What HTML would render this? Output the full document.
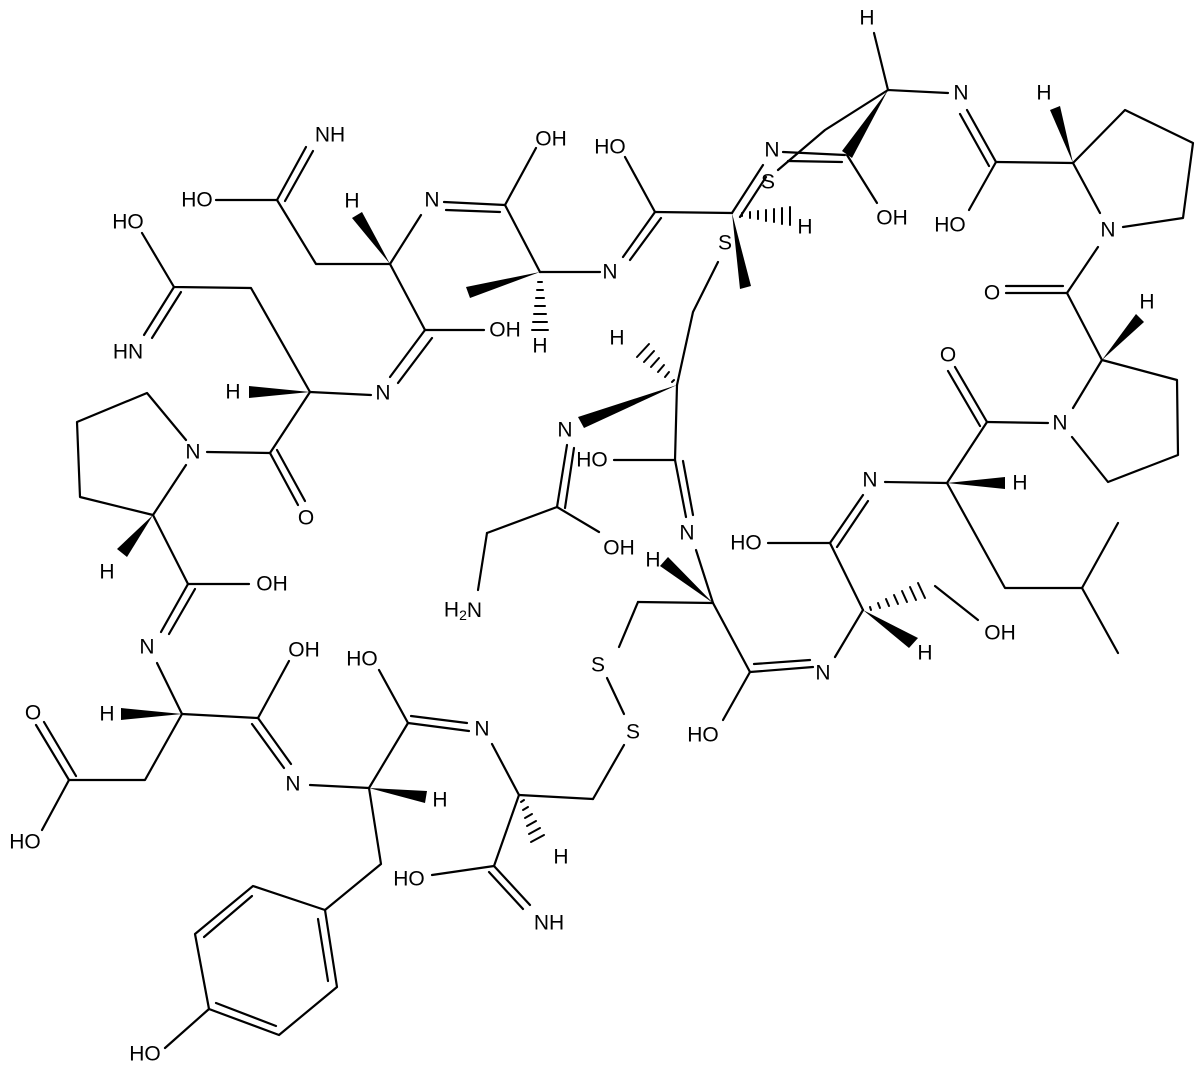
<!DOCTYPE html>
<html><head><meta charset="utf-8"><style>
html,body{margin:0;padding:0;background:#fff;}
svg{display:block}
text{font-family:"Liberation Sans",sans-serif;font-size:21px;text-anchor:middle;dominant-baseline:central;fill:#000}
line,polyline{stroke:#000;stroke-width:2.2;fill:none;stroke-linecap:round;stroke-linejoin:round}
.h line{stroke-width:2}
</style></head><body>
<svg width="1200" height="1068" viewBox="0 0 1200 1068" xmlns="http://www.w3.org/2000/svg">
<line x1="306" y1="147" x2="277" y2="200"/><line x1="313" y1="151" x2="285" y2="201"/>
<line x1="216" y1="200" x2="277" y2="200"/>
<polyline points="277,200 316,264 390,264 421,215"/>
<polygon points="390,264 352,218 362,212"/>
<line x1="444" y1="202" x2="505" y2="205"/><line x1="446" y1="210" x2="500" y2="212"/>
<line x1="505" y1="205" x2="536" y2="148"/>
<line x1="505" y1="205" x2="540" y2="272"/>
<polygon points="540,272 466,287 470,298"/>
<g class="h"><line x1="538" y1="282" x2="542" y2="282"/><line x1="537" y1="290" x2="543" y2="290"/><line x1="536" y1="298" x2="544" y2="298"/><line x1="535" y1="306" x2="545" y2="306"/><line x1="534" y1="314" x2="546" y2="314"/><line x1="533" y1="322" x2="547" y2="322"/><line x1="532" y1="330" x2="548" y2="330"/></g>
<line x1="540" y1="272" x2="600" y2="272"/>
<line x1="390" y1="264" x2="425" y2="330"/>
<line x1="425" y1="330" x2="484" y2="330"/>
<line x1="425" y1="330" x2="390" y2="377"/><line x1="432" y1="338" x2="398" y2="383"/>
<line x1="371" y1="395" x2="310" y2="392"/>
<polygon points="310,392 249,386 249,398"/>
<polyline points="310,392 251,288 174,287 142,233"/>
<line x1="174" y1="287" x2="144" y2="335"/><line x1="181" y1="292" x2="152" y2="338"/>
<line x1="310" y1="392" x2="270" y2="453"/>
<line x1="270" y1="453" x2="207" y2="452"/>
<line x1="270" y1="453" x2="298" y2="505"/><line x1="277" y1="450" x2="305" y2="501"/>
<polyline points="186,440 147,393 77,422 80,497 153,515 186,465"/>
<polygon points="153,515 117,549 127,557"/>
<line x1="153" y1="515" x2="188" y2="584"/>
<line x1="188" y1="584" x2="249" y2="584"/>
<line x1="188" y1="584" x2="161" y2="632"/><line x1="195" y1="589" x2="169" y2="634"/>
<line x1="157" y1="663" x2="182" y2="714"/>
<polygon points="182,714 121,708 121,720"/>
<polyline points="182,714 145,780 69,780 42,830"/>
<line x1="69" y1="780" x2="36" y2="725"/><line x1="76" y1="776" x2="44" y2="722"/>
<line x1="182" y1="714" x2="258" y2="718"/>
<line x1="258" y1="718" x2="289" y2="661"/>
<line x1="258" y1="718" x2="291" y2="764"/><line x1="252" y1="724" x2="284" y2="768"/>
<line x1="310" y1="785" x2="369" y2="788"/>
<polygon points="369,788 427,791 425,803"/>
<line x1="369" y1="788" x2="408" y2="723"/>
<line x1="408" y1="723" x2="379" y2="670"/>
<line x1="408" y1="723" x2="469" y2="731"/><line x1="411" y1="716" x2="467" y2="723"/>
<polyline points="369,788 381,864 325,910"/>
<polyline points="325,910 337,987 279,1035 209,1009 195,934 253,886 325,910"/>
<line x1="318" y1="919" x2="328" y2="981"/><line x1="276" y1="1026" x2="216" y2="1003"/><line x1="204" y1="937" x2="252" y2="896"/>
<line x1="209" y1="1009" x2="165" y2="1048"/>
<line x1="492" y1="744" x2="519" y2="795"/>
<line x1="519" y1="795" x2="593" y2="799"/>
<g class="h"><line x1="521" y1="802" x2="524" y2="800"/><line x1="523" y1="810" x2="528" y2="807"/><line x1="525" y1="818" x2="532" y2="814"/><line x1="527" y1="826" x2="536" y2="821"/><line x1="529" y1="834" x2="540" y2="828"/><line x1="531" y1="842" x2="544" y2="835"/></g>
<line x1="519" y1="795" x2="494" y2="866"/>
<line x1="494" y1="866" x2="432" y2="875"/>
<line x1="494" y1="866" x2="530" y2="905"/><line x1="489" y1="872" x2="523" y2="909"/>
<polyline points="593,799 624,745"/>
<line x1="607" y1="678" x2="624" y2="714"/>
<line x1="619" y1="647" x2="638" y2="602"/>
<line x1="638" y1="602" x2="713" y2="603"/>
<line x1="478" y1="590" x2="487" y2="533"/>
<line x1="487" y1="533" x2="557" y2="507"/>
<line x1="557" y1="507" x2="599" y2="532"/>
<line x1="557" y1="507" x2="567" y2="445"/><line x1="565" y1="508" x2="574" y2="448"/>
<polygon points="677,385 578,417 584,428"/>
<g class="h"><line x1="672" y1="382" x2="674" y2="380"/><line x1="665" y1="377" x2="669" y2="372"/><line x1="658" y1="372" x2="664" y2="365"/><line x1="651" y1="367" x2="659" y2="358"/><line x1="644" y1="362" x2="654" y2="351"/><line x1="637" y1="357" x2="649" y2="344"/></g>
<polyline points="677,385 693,312 718,262"/>
<line x1="677" y1="385" x2="675" y2="460"/>
<line x1="614" y1="460" x2="675" y2="460"/>
<line x1="675" y1="460" x2="686" y2="517"/><line x1="683" y1="461" x2="693" y2="515"/>
<line x1="696" y1="550" x2="713" y2="603"/>
<polygon points="713,603 660,566 668,557"/>
<line x1="713" y1="603" x2="750" y2="672"/>
<line x1="750" y1="672" x2="723" y2="720"/>
<line x1="750" y1="672" x2="813" y2="667"/><line x1="754" y1="664" x2="810" y2="660"/>
<line x1="835" y1="657" x2="863" y2="610"/>
<polygon points="863,610 909,648 918,638"/>
<g class="h"><line x1="870" y1="607" x2="871" y2="610"/><line x1="878" y1="603" x2="880" y2="608"/><line x1="886" y1="599" x2="889" y2="606"/><line x1="894" y1="595" x2="898" y2="604"/><line x1="902" y1="591" x2="907" y2="602"/><line x1="910" y1="587" x2="916" y2="600"/><line x1="918" y1="583" x2="925" y2="598"/></g>
<line x1="935" y1="586" x2="978" y2="620"/>
<line x1="863" y1="610" x2="830" y2="543"/>
<line x1="830" y1="543" x2="768" y2="543"/>
<line x1="830" y1="543" x2="863" y2="495"/><line x1="837" y1="547" x2="868" y2="501"/>
<line x1="885" y1="482" x2="947" y2="483"/>
<polygon points="947,483 1005,477 1005,489"/>
<polyline points="947,483 1005,588 1082,588 1118,523"/>
<line x1="1082" y1="588" x2="1118" y2="653"/>
<line x1="947" y1="483" x2="987" y2="422"/>
<line x1="987" y1="422" x2="1048" y2="423"/>
<line x1="987" y1="422" x2="955" y2="367"/><line x1="980" y1="426" x2="948" y2="371"/>
<polyline points="1072,437 1108,482 1178,455 1177,380 1102,360 1073,408"/>
<polygon points="1102,360 1136,314 1144,322"/>
<line x1="1102" y1="360" x2="1067" y2="293"/>
<line x1="1067" y1="293" x2="1006" y2="293"/><line x1="1063" y1="286" x2="1006" y2="286"/>
<line x1="1067" y1="293" x2="1098" y2="247"/>
<polyline points="1100,213 1073,163 1125,110 1193,143 1183,218 1123,227"/>
<polygon points="1073,163 1050,110 1060,106"/>
<line x1="1073" y1="163" x2="996" y2="162"/>
<line x1="996" y1="162" x2="969" y2="210"/>
<line x1="996" y1="162" x2="967" y2="110"/><line x1="989" y1="166" x2="960" y2="114"/>
<line x1="948" y1="93" x2="888" y2="90"/>
<line x1="888" y1="90" x2="874" y2="33"/>
<polyline points="888,90 825,130 778,170"/>
<polygon points="888,90 842,151 852,158"/>
<line x1="783" y1="152" x2="845" y2="155"/><line x1="788" y1="161" x2="842" y2="162"/>
<line x1="847" y1="155" x2="877" y2="203"/>
<line x1="732" y1="213" x2="763" y2="165"/><line x1="740" y1="217" x2="766" y2="177"/>
<line x1="655" y1="212" x2="732" y2="213"/>
<g class="h"><line x1="742" y1="213" x2="742" y2="216"/><line x1="750" y1="212" x2="750" y2="218"/><line x1="758" y1="211" x2="758" y2="219"/><line x1="766" y1="210" x2="766" y2="221"/><line x1="774" y1="209" x2="774" y2="222"/><line x1="782" y1="208" x2="782" y2="224"/><line x1="790" y1="207" x2="790" y2="225"/></g>
<polygon points="732,213 740,289 751,286"/>
<line x1="655" y1="212" x2="625" y2="157"/>
<line x1="655" y1="212" x2="623" y2="257"/><line x1="661" y1="218" x2="630" y2="260"/>

<text x="330" y="135">NH</text><text x="197" y="200">HO</text><text x="352" y="201">H</text><text x="432" y="200">N</text>
<text x="551" y="139">OH</text><text x="540" y="346">H</text><text x="505" y="330">OH</text><text x="383" y="393">N</text>
<text x="233" y="392">H</text><text x="128" y="222">HO</text><text x="128" y="352">HN</text><text x="193" y="452">N</text>
<text x="306" y="518">O</text><text x="107" y="572">H</text><text x="272" y="584">OH</text><text x="147" y="647">N</text>
<text x="107" y="714">H</text><text x="33" y="713">O</text><text x="25" y="842">HO</text><text x="304" y="650">OH</text>
<text x="293" y="784">N</text><text x="440" y="800">H</text><text x="362" y="659">HO</text><text x="482" y="729">N</text>
<text x="561" y="857">H</text><text x="409" y="879">HO</text><text x="549" y="923">NH</text><text x="145" y="1054">HO</text>
<text x="463" y="610">H<tspan font-size="14" dy="5">2</tspan><tspan dy="-5">N</tspan></text>
<text x="598" y="665">S</text><text x="633" y="732">S</text><text x="619" y="548">OH</text><text x="592" y="460">HO</text>
<text x="565" y="430">N</text><text x="617" y="338">H</text><text x="687" y="533">N</text><text x="653" y="560">H</text>
<text x="703" y="735">HO</text><text x="823" y="673">N</text><text x="925" y="653">H</text><text x="1000" y="633">OH</text>
<text x="746" y="543">HO</text><text x="870" y="480">N</text><text x="1020" y="483">H</text><text x="1060" y="423">N</text>
<text x="948" y="355">O</text><text x="992" y="293">O</text><text x="1147" y="302">H</text><text x="1108" y="230">N</text>
<text x="950" y="225">HO</text><text x="1044" y="93">H</text><text x="961" y="93">N</text><text x="867" y="18">H</text>
<text x="772" y="150">N</text><text x="768" y="182">S</text><text x="892" y="218">OH</text><text x="805" y="227">H</text>
<text x="725" y="243">S</text><text x="610" y="147">HO</text><text x="610" y="272">N</text>
</svg>
</body></html>
